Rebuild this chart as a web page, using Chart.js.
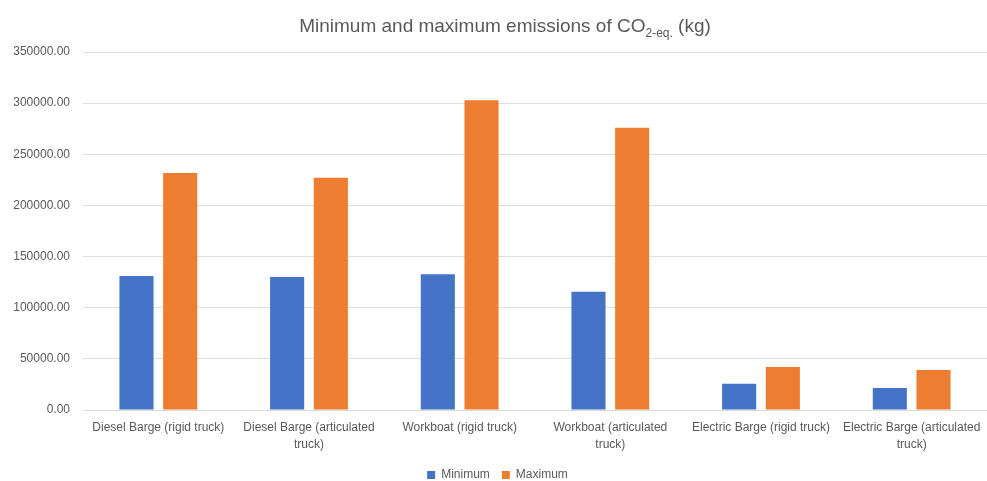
<!DOCTYPE html>
<html>
<head>
<meta charset="utf-8">
<script src="https://cdn.jsdelivr.net/npm/chart.js@4"></script>
<style>
  html, body { margin: 0; padding: 0; background: #fff; overflow: hidden; }
  #wrap { position: relative; width: 987px; height: 481px; }
  #title {
    position: absolute; top: 15px; left: 0; width: 1010px; text-align: center;
    font-family: "Liberation Sans", Arial, sans-serif; font-size: 19px; color: #595959;
  }
  #title sub { font-size: 12px; }
</style>
</head>
<body>
<div id="wrap">
  <div id="title">Minimum and maximum emissions of CO<sub>2-eq.</sub> (kg)</div>
  <canvas id="emissionsChart" width="987" height="481"></canvas>
</div>
<script>
// Categories (multi-line as in the original axis)
const categories = [
    'Diesel Barge (rigid truck)',
    ['Diesel Barge (articulated', 'truck)'],
    'Workboat (rigid truck)',
    ['Workboat (articulated', 'truck)'],
    'Electric Barge (rigid truck)',
    ['Electric Barge (articulated', 'truck)']
];

// Values (kg CO2-eq.)
const minimumValues = [131000, 130000, 132700, 115700, 25700, 21500];
const maximumValues = [231700, 227100, 302800, 276000, 42000, 39100];

const seriesNames = ['Minimum', 'Maximum'];
const seriesColors = ['#4472C4', '#ED7D31'];

const textColor = '#595959';
const fontFamily = '"Liberation Sans", Arial, sans-serif';

function renderChart() {
    const ctx = document.getElementById('emissionsChart');

    new Chart(ctx, {
        type: 'bar',
        data: {
            labels: categories,
            datasets: [
                {
                    label: seriesNames[0],
                    data: minimumValues,
                    backgroundColor: seriesColors[0],
                    barPercentage: 0.78,
                    categoryPercentage: 0.58
                },
                {
                    label: seriesNames[1],
                    data: maximumValues,
                    backgroundColor: seriesColors[1],
                    barPercentage: 0.78,
                    categoryPercentage: 0.58
                }
            ]
        },
        options: {
            responsive: false,
            animation: false,
            // plot area runs slightly past the right edge, as in the source image
            layout: { padding: { top: 52, right: -8, left: 0, bottom: -10 } },
            plugins: {
                title: { display: false },
                tooltip: { enabled: false },
                legend: {
                    position: 'bottom',
                    labels: {
                        boxWidth: 8,
                        boxHeight: 8,
                        padding: 12,
                        color: textColor,
                        font: { family: fontFamily, size: 12 }
                    }
                }
            },
            scales: {
                x: {
                    afterFit: scale => {
                        scale.height = 47;
                        scale.paddingLeft = 0;
                        scale.paddingRight = 0;
                    },
                    grid: { display: false, drawTicks: false },
                    border: { color: '#d9d9d9' },
                    ticks: {
                        color: textColor,
                        padding: 9,
                        maxRotation: 0,
                        autoSkip: false,
                        font: { family: fontFamily, size: 12, lineHeight: 1.4 }
                    }
                },
                y: {
                    min: 0,
                    max: 350000,
                    afterFit: scale => { scale.width = 83; },
                    grid: { color: '#dedede', drawTicks: false },
                    border: { display: false },
                    ticks: {
                        stepSize: 50000,
                        padding: 13,
                        color: textColor,
                        font: { family: fontFamily, size: 12 },
                        callback: v => Number(v).toFixed(2)
                    }
                }
            }
        }
    });
}

document.addEventListener('DOMContentLoaded', renderChart);
</script>
</body>
</html>
